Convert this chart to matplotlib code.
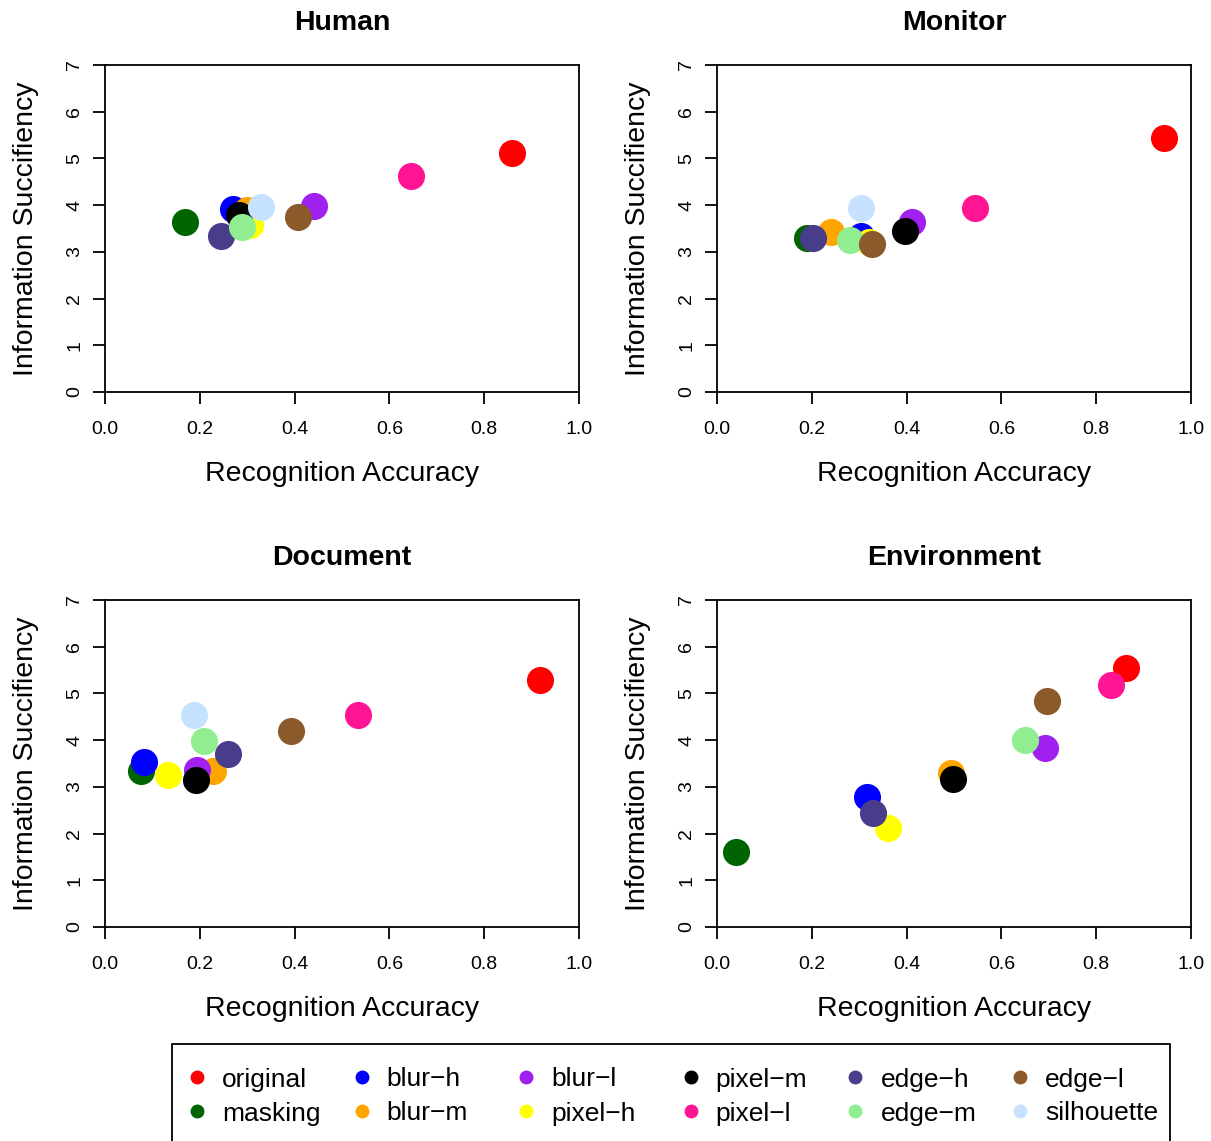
import matplotlib
matplotlib.use("Agg")
import matplotlib.pyplot as plt
from matplotlib.lines import Line2D
from matplotlib.patches import Rectangle

plt.rcParams['font.family'] = ['Liberation Sans', 'DejaVu Sans']

methods = ['original', 'masking', 'blur\u2212h', 'blur\u2212m', 'blur\u2212l', 'pixel\u2212h',
           'pixel\u2212m', 'pixel\u2212l', 'edge\u2212h', 'edge\u2212m', 'edge\u2212l', 'silhouette']
colors = ['#FF0000', '#006400', '#0000FF', '#FFA500', '#A020F0', '#FFFF00',
          '#000000', '#FF1493', '#483D8B', '#90EE90', '#8B5A2B', '#C6E2FF']

panels = ['Human', 'Monitor', 'Document', 'Environment']

# recognition accuracy per method (same order as methods)
acc_human = [0.858, 0.169, 0.270, 0.300, 0.440, 0.305, 0.282, 0.645, 0.245, 0.290, 0.407, 0.330]
acc_monitor = [0.943, 0.190, 0.304, 0.241, 0.412, 0.320, 0.397, 0.545, 0.202, 0.281, 0.327, 0.304]
acc_document = [0.918, 0.075, 0.083, 0.228, 0.195, 0.133, 0.192, 0.533, 0.259, 0.208, 0.393, 0.188]
acc_environment = [0.863, 0.040, 0.316, 0.493, 0.693, 0.361, 0.497, 0.831, 0.330, 0.649, 0.696, None]

# information sufficiency per method
suf_human = [5.12, 3.63, 3.91, 3.90, 3.99, 3.57, 3.79, 4.63, 3.35, 3.53, 3.75, 3.97]
suf_monitor = [5.44, 3.29, 3.35, 3.43, 3.63, 3.22, 3.45, 3.94, 3.29, 3.25, 3.17, 3.93]
suf_document = [5.29, 3.34, 3.54, 3.33, 3.36, 3.25, 3.15, 4.54, 3.70, 3.99, 4.20, 4.54]
suf_environment = [5.55, 1.61, 2.79, 3.30, 3.83, 2.11, 3.17, 5.18, 2.43, 4.00, 4.84, None]

acc = [acc_human, acc_monitor, acc_document, acc_environment]
suf = [suf_human, suf_monitor, suf_document, suf_environment]

W, H = 1211, 1141
fig = plt.figure(figsize=(W / 100, H / 100), dpi=100)

lefts = [105, 717, 105, 717]
tops = [65, 65, 600, 600]
aw, ah = 474, 327

for i, name in enumerate(panels):
    ax = fig.add_axes([lefts[i] / W, 1 - (tops[i] + ah) / H, aw / W, ah / H])
    for m in range(len(methods)):
        if suf[i][m] is None:
            continue
        ax.plot(acc[i][m], suf[i][m], 'o', ms=19.5, color=colors[m],
                mec='none', clip_on=False)
    ax.set_xlim(0, 1)
    ax.set_ylim(0, 7)
    ax.set_xticks([0, 0.2, 0.4, 0.6, 0.8, 1.0])
    ax.set_xticklabels(['0.0', '0.2', '0.4', '0.6', '0.8', '1.0'])
    ax.set_yticks(range(8))
    ax.tick_params(length=8.6, width=1.3, labelsize=14)
    ax.tick_params(axis='x', pad=12)
    ax.tick_params(axis='y', pad=7)
    for lab in ax.get_yticklabels():
        lab.set_rotation(90)
        lab.set_va('center')
    for sp in ax.spines.values():
        sp.set_linewidth(1.3)
    ax.set_title(name, fontsize=20.5, fontweight='bold', pad=25.5)
    ax.set_xlabel('Recognition Accuracy', fontsize=20.5, labelpad=17)
    ax.set_ylabel('Information Succifiency', fontsize=20.5, labelpad=20)

# legend box, 6 equal columns x 2 rows
fig.add_artist(Rectangle((172 / W, 1 - 1160 / H), 998 / W, 116 / H,
                         transform=fig.transFigure, fill=False,
                         edgecolor='black', linewidth=1.3, clip_on=False))
col_x = [197 + 164.6 * k for k in range(6)]
row_y = [1077, 1111]
for m, (lab, c) in enumerate(zip(methods, colors)):
    cx = col_x[m // 2]
    cy = row_y[m % 2]
    fig.add_artist(Line2D([cx / W], [1 - cy / H], marker='o', ls='none',
                          ms=10, color=c, mec='none',
                          transform=fig.transFigure))
    fig.text((cx + 25) / W, 1 - (cy + 9.5) / H, lab, fontsize=19,
             ha='left', va='baseline')

fig.savefig('out.png', dpi=100)
